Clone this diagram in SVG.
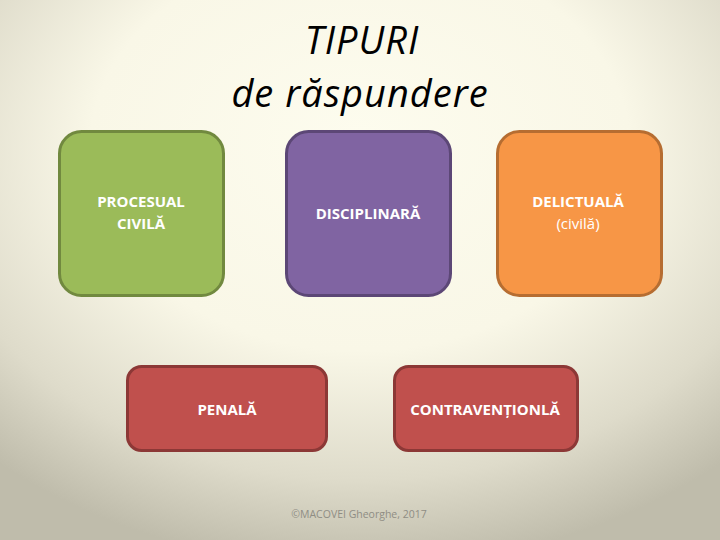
<svg xmlns="http://www.w3.org/2000/svg" width="720" height="540" viewBox="0 0 720 540">
<defs>
<radialGradient id="bg" cx="0.5" cy="0.3" r="0.75" fx="0.5" fy="0.25">
<stop offset="0" stop-color="#fdfcee"/>
<stop offset="0.5" stop-color="#f9f7e7"/>
<stop offset="0.8" stop-color="#dedbca"/>
<stop offset="1" stop-color="#bfbcab"/>
</radialGradient>
<style>
.box{stroke-width:3}
.t{font-family:"Open Sans","Liberation Sans",sans-serif;font-weight:bold;font-size:15px;fill:#ffffff;text-anchor:middle}
.n{font-weight:normal}
.title{font-family:"Open Sans","Liberation Sans",sans-serif;font-style:italic;font-size:38px;letter-spacing:1px;fill:#000;text-anchor:middle}
.foot{font-family:"Open Sans","Liberation Sans",sans-serif;font-size:10.5px;fill:#8f8d84;text-anchor:middle}
</style>
</defs>
<rect width="720" height="540" fill="url(#bg)"/>
<g id="title">
<text class="title" x="362" y="54">TIPURI</text>
<text class="title" x="360" y="107">de răspundere</text>
</g>
<g id="procesual">
<rect class="box" x="59.5" y="131.5" width="164" height="164" rx="22" fill="#9bbb59" stroke="#71893f"/>
<text class="t" x="141" y="207">PROCESUAL</text>
<text class="t" x="141" y="229">CIVILĂ</text>
</g>
<g id="disciplinara">
<rect class="box" x="286.5" y="131.5" width="164" height="164" rx="22" fill="#8064a2" stroke="#5c4776"/>
<text class="t" x="368" y="219">DISCIPLINARĂ</text>
</g>
<g id="delictuala">
<rect class="box" x="497.5" y="131.5" width="164" height="164" rx="22" fill="#f79646" stroke="#b66d31"/>
<text class="t" x="578" y="207">DELICTUALĂ</text>
<text class="t n" x="578" y="229">(civilă)</text>
</g>
<g id="penala">
<rect class="box" x="127.5" y="366.5" width="199" height="84" rx="14" fill="#c0504d" stroke="#8c3836"/>
<text class="t" x="227" y="415">PENALĂ</text>
</g>
<g id="contraventionala">
<rect class="box" x="394.5" y="366.5" width="183" height="84" rx="14" fill="#c0504d" stroke="#8c3836"/>
<text class="t" x="485" y="415">CONTRAVENȚIONLĂ</text>
</g>
<g id="connectors"/>
<text class="foot" x="359" y="518">©MACOVEI Gheorghe, 2017</text>
</svg>
